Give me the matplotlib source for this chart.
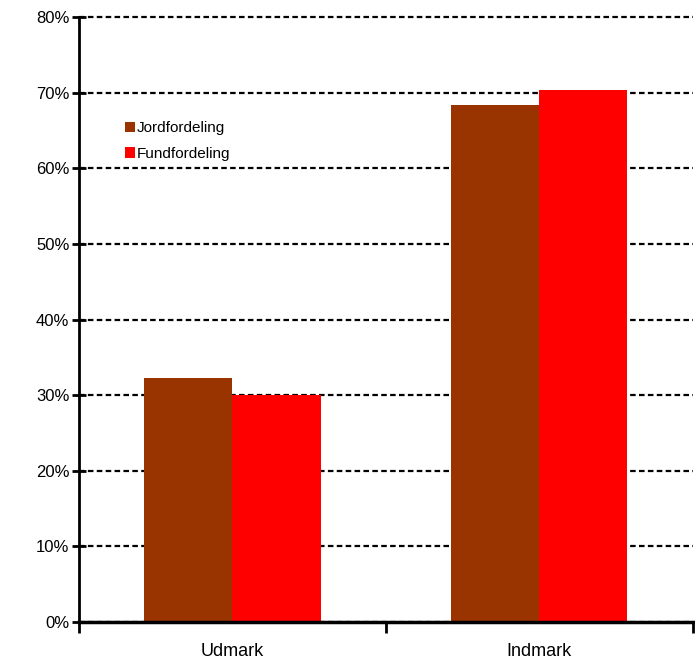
import matplotlib.pyplot as plt
import matplotlib.ticker as mtick
import numpy as np

plt.rcParams['font.family'] = ['Liberation Sans', 'DejaVu Sans']

categories = ['Udmark', 'Indmark']
series_names = ['Jordfordeling', 'Fundfordeling']
jord = [32.3, 68.4]
fund = [30.0, 70.4]
colors = ['#993300', '#ff0000']

fig = plt.figure(figsize=(6.95, 6.66), dpi=100)
ax = fig.add_axes([0.1137, 0.066, 0.883, 0.9085])

x = np.arange(len(categories))
width = 0.287
ax.bar(x - width / 2, jord, width, color=colors[0], label=series_names[0], zorder=3)
ax.bar(x + width / 2, fund, width, color=colors[1], label=series_names[1], zorder=3)

ax.set_xlim(-0.5, 1.5)
ax.set_ylim(0, 80)
ax.set_yticks(np.arange(0, 81, 10))
ax.yaxis.set_major_formatter(mtick.PercentFormatter(decimals=0))
ax.yaxis.grid(True, color='black', linestyle=(0, (2.5, 1.5)), linewidth=1.6, zorder=1)
for line in ax.get_ygridlines():
    line.set_clip_on(False)

# category labels centered, ticks at boundaries
ax.set_xticks([-0.5, 0.5, 1.5])
ax.set_xticklabels([])
ax.set_xticks(x, minor=True)
ax.set_xticklabels(categories, minor=True, fontsize=13)
ax.tick_params(axis='x', which='minor', length=0, pad=15)
ax.tick_params(axis='x', which='major', direction='out', length=8, width=2)
ax.tick_params(axis='y', direction='inout', length=10, width=2, labelsize=12, pad=2)

for s in ['top', 'right']:
    ax.spines[s].set_visible(False)
ax.spines['left'].set_linewidth(2)
ax.spines['bottom'].set_linewidth(2.5)
ax.spines['bottom'].set_zorder(4)

ax.legend(loc='upper left', bbox_to_anchor=(0.052, 0.85), frameon=False, fontsize=11,
          handlelength=0.65, handleheight=0.65, handletextpad=0.15, labelspacing=0.75)

plt.savefig('out.png', dpi=100)
